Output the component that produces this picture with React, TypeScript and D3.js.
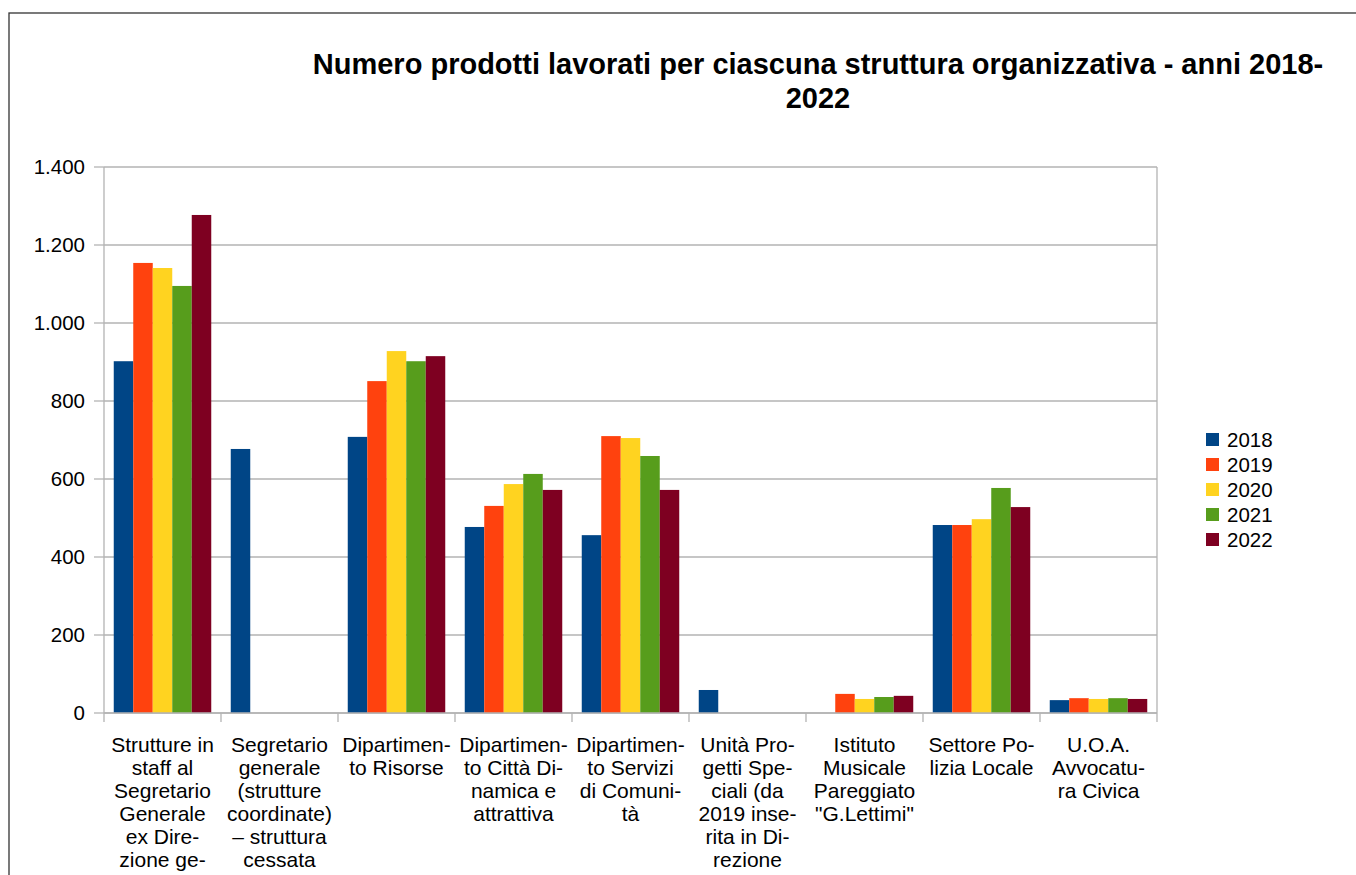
import React from "react";
import * as d3 from "d3";

const title = ["Numero prodotti lavorati per ciascuna struttura organizzativa - anni 2018-", "2022"];

const categories = [
  "Strutture in staff al Segretario Generale ex Direzione generale",
  "Segretario generale (strutture coordinate) – struttura cessata",
  "Dipartimento Risorse",
  "Dipartimento Città Dinamica e attrattiva",
  "Dipartimento Servizi di Comunità",
  "Unità Progetti Speciali (da 2019 inserita in Direzione",
  "Istituto Musicale Pareggiato \"G.Lettimi\"",
  "Settore Polizia Locale",
  "U.O.A. Avvocatura Civica",
];

const categoryLines = [
  ["Strutture in", "staff al", "Segretario", "Generale", "ex Dire-", "zione ge-"],
  ["Segretario", "generale", "(strutture", "coordinate)", "– struttura", "cessata"],
  ["Dipartimen-", "to Risorse"],
  ["Dipartimen-", "to Città Di-", "namica e", "attrattiva"],
  ["Dipartimen-", "to Servizi", "di Comuni-", "tà"],
  ["Unità Pro-", "getti Spe-", "ciali (da", "2019 inse-", "rita in Di-", "rezione"],
  ["Istituto", "Musicale", "Pareggiato", "\"G.Lettimi\""],
  ["Settore Po-", "lizia Locale"],
  ["U.O.A.", "Avvocatu-", "ra Civica"],
];

const years = ["2018", "2019", "2020", "2021", "2022"];
const colors = ["#004586", "#ff420e", "#ffd320", "#579d1c", "#7e0021"];

const v2018 = [902, 677, 708, 477, 456, 59, 0, 482, 33];
const v2019 = [1154, 0, 851, 531, 710, 0, 49, 482, 38];
const v2020 = [1141, 0, 928, 587, 705, 0, 36, 497, 36];
const v2021 = [1095, 0, 902, 613, 659, 0, 41, 577, 38];
const v2022 = [1277, 0, 915, 572, 572, 0, 44, 528, 36];
const series = [v2018, v2019, v2020, v2021, v2022];

const yTicks = [0, 200, 400, 600, 800, 1000, 1200, 1400];

const FONT = "'Liberation Sans', Arial, sans-serif";

export default function App() {
  const left = 104, right = 1157, top = 167, bottom = 713;
  const x0 = d3.scaleBand<number>().domain(d3.range(categories.length)).range([left, right]).padding(0);
  const x1 = d3.scaleBand<string>().domain(years).range([0, x0.bandwidth()]).paddingInner(0).paddingOuter(0.5);
  const y = d3.scaleLinear().domain([0, 1400]).range([bottom, top]);
  const loc = d3.formatLocale({ decimal: ",", thousands: ".", grouping: [3], currency: ["", ""] });
  const fmt = loc.format(",d");
  const grid = "#b3b3b3";

  return (
    <svg width={1356} height={875} style={{ position: "absolute", left: 0, top: 0 }} fontFamily={FONT}>
      <rect x={0} y={0} width={1356} height={875} fill="#fff" />
      <rect x={9} y={13} width={1360} height={900} fill="none" stroke="#333" strokeWidth={1.3} />
      <text x={818} textAnchor="middle" fontSize={29} fontWeight="bold" fill="#000">
        {title.map((t, i) => (
          <tspan key={i} x={818} y={74 + i * 34}>{t}</tspan>
        ))}
      </text>
      {yTicks.map((t) => (
        <g key={t}>
          <line x1={left} x2={right} y1={y(t)} y2={y(t)} stroke={grid} strokeWidth={1.3} />
          <line x1={94} x2={left} y1={y(t)} y2={y(t)} stroke={grid} strokeWidth={1.3} />
          <text x={85} y={y(t)} dy="0.35em" textAnchor="end" fontSize={20.5} fill="#000">{fmt(t)}</text>
        </g>
      ))}
      <line x1={left} x2={left} y1={top} y2={bottom} stroke={grid} strokeWidth={1.3} />
      <line x1={right} x2={right} y1={top} y2={bottom} stroke={grid} strokeWidth={1.3} />
      {categories.map((c, ci) => (
        <g key={ci}>
          {series.map((s, si) => (
            s[ci] > 0 ? (
              <rect key={si} x={(x0(ci) as number) + (x1(years[si]) as number)} y={y(s[ci])}
                width={x1.bandwidth()} height={bottom - y(s[ci])} fill={colors[si]} />
            ) : null
          ))}
        </g>
      ))}
      <line x1={left} x2={right} y1={bottom} y2={bottom} stroke={grid} strokeWidth={1.3} />
      {d3.range(categories.length + 1).map((i) => {
        const xx = i < categories.length ? (x0(i) as number) : right;
        return <line key={i} x1={xx} x2={xx} y1={bottom} y2={722} stroke={grid} strokeWidth={1.3} />;
      })}
      {categoryLines.map((lines, ci) => (
        <text key={ci} textAnchor="middle" fontSize={21} fill="#000">
          {lines.map((l, li) => (
            <tspan key={li} x={(x0(ci) as number) + x0.bandwidth() / 2} y={752 + li * 23}>{l}</tspan>
          ))}
        </text>
      ))}
      {years.map((yr, i) => (
        <g key={yr}>
          <rect x={1206} y={433 + i * 25} width={13} height={13} fill={colors[i]} />
          <text x={1227} y={439.5 + i * 25} dy="0.35em" fontSize={20.5} fill="#000">{yr}</text>
        </g>
      ))}
    </svg>
  );
}
